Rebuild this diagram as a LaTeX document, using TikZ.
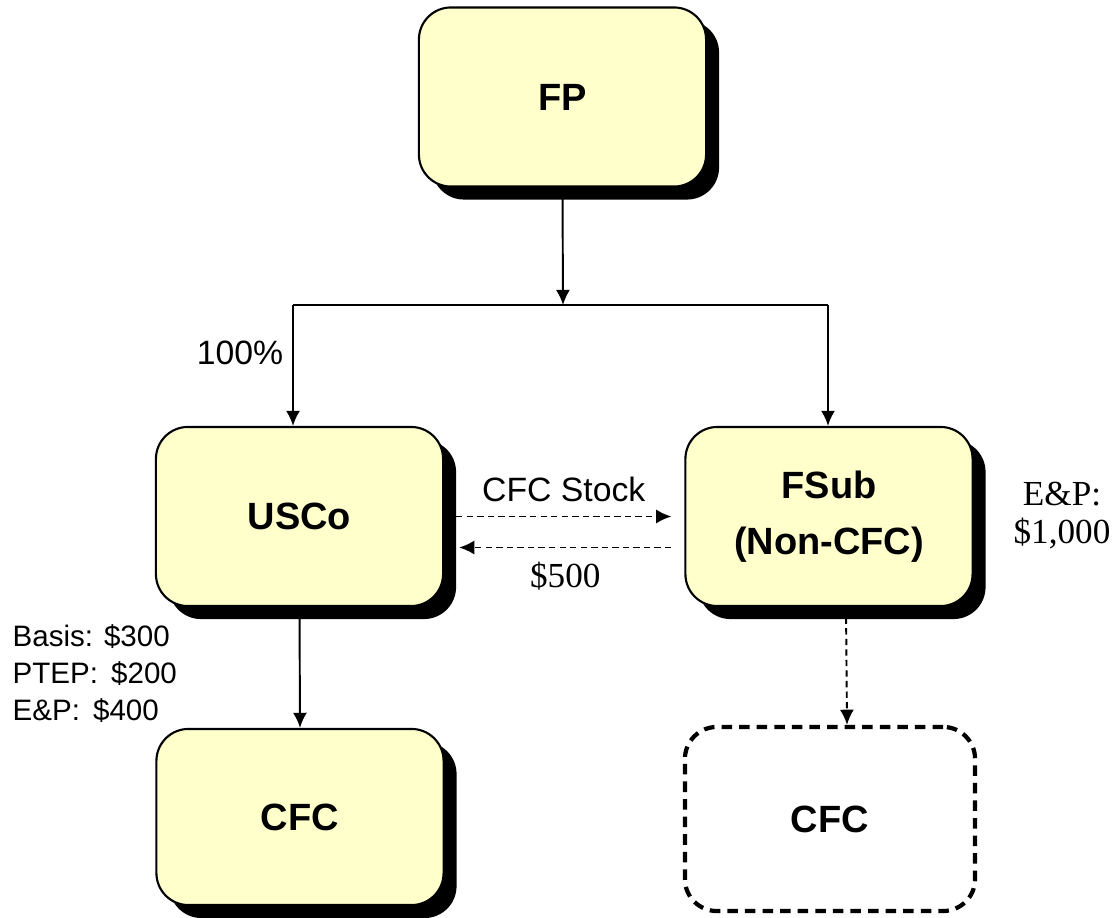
\documentclass[tikz,border=0pt]{standalone}
\usepackage{fontspec}
\setmainfont{Liberation Serif}
\setsansfont{Liberation Sans}
\usetikzlibrary{shadows,arrows.meta}
\definecolor{boxfill}{HTML}{FFFFCC}
\tikzset{
  entity/.style={draw,line width=0.6pt,rounded corners=0.32cm,fill=boxfill,
    minimum width=2.87cm,minimum height=1.79cm,align=center,
    font=\sffamily\bfseries\fontsize{10.8}{16}\selectfont,
    drop shadow={shadow xshift=0.13cm,shadow yshift=-0.13cm,opacity=1,fill=black}},
  ghost/.style={draw,line width=1.2pt,dash pattern=on 3pt off 2pt,rounded corners=0.32cm,
    minimum width=2.9cm,minimum height=1.84cm,
    font=\sffamily\bfseries\fontsize{10.8}{16}\selectfont},
  link/.style={line width=0.55pt,-{Latex[length=4.3pt,width=4pt]}},
  dlink/.style={link,dash pattern=on 1.8pt off 1.2pt}
}
\begin{document}
\begin{tikzpicture}[x=0.01cm,y=-0.01cm]
        \useasboundingbox (0,0) rectangle (1117,918);
        \node[entity](fp)at(562.5,97){FP};
        \node[entity](usco)at(299.5,516.5){USCo};
        \node[entity](fsub)at(829,516.5){FSub\\(Non-CFC)};
        \node[entity,minimum height=1.76cm](cfca)at(300,817){CFC};
        \node[ghost](cfcb)at(830,819){CFC};

        \coordinate(split)at(563,305);
        \coordinate(jl)at(293,305);
        \coordinate(jr)at(828,305);
        \draw[link](fp.south)--(split);
        \draw[line width=0.55pt](jl)--(jr);
        \draw[link](jl)--(jl|-usco.north);
        \draw[link](jr)--(jr|-fsub.north);
        \draw[link](usco.south)--(cfca.north);
        \draw[dlink]([xshift=0.17cm]fsub.south)--([xshift=0.17cm]cfcb.north);

        \draw[dlink]([xshift=0.12cm]usco.east)--([xshift=-0.13cm]usco.east-|fsub.west)
          node[midway,above=0.5pt,font=\sffamily\fontsize{9.6}{11}\selectfont](stock){CFC Stock};
        \draw[dlink]([xshift=-0.13cm,yshift=-0.31cm]fsub.west)--([xshift=0.15cm,yshift=-0.31cm]usco.east)
          node[midway,below=0.5pt,font=\fontsize{10}{11}\selectfont](cash){\$500};

        \node[font=\sffamily\fontsize{9.6}{11}\selectfont](pct)at(240,353){100\%};
        \node[anchor=west,align=left,inner sep=0pt,font=\sffamily\fontsize{8.4}{10.5}\selectfont](basis)at(12,674)
          {Basis: \$300\\PTEP:\ \,\$200\\E\&P:\ \,\$400};
        \node[align=center,font=\fontsize{10}{10.8}\selectfont](ep)at(1062,516){E\&P:\\\$1,000};
\end{tikzpicture}
\end{document}
